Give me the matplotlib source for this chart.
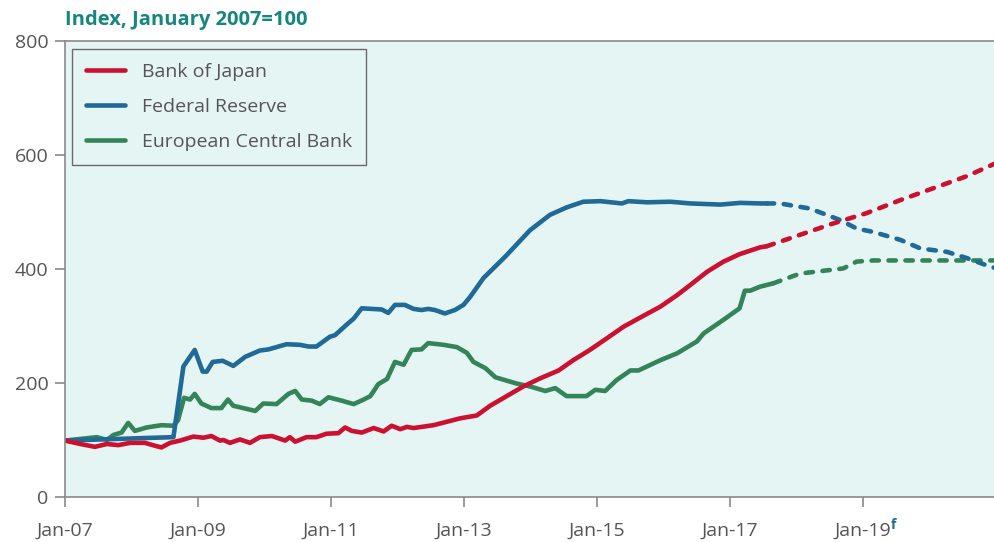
import matplotlib.pyplot as plt

# central bank balance sheets, Index Jan 2007 = 100
# x values are decimal years

boj_t = [2007.0, 2007.23, 2007.45, 2007.63, 2007.80, 2007.98, 2008.2, 2008.35, 2008.45, 2008.58,
         2008.73, 2008.93, 2009.08, 2009.20, 2009.33, 2009.38, 2009.48, 2009.63, 2009.78, 2009.93,
         2010.11, 2010.31, 2010.38, 2010.46, 2010.63, 2010.78, 2010.93, 2011.11, 2011.21, 2011.31,
         2011.46, 2011.64, 2011.79, 2011.91, 2012.04, 2012.14, 2012.24, 2012.54, 2012.74, 2012.94,
         2013.19, 2013.39, 2013.64, 2013.89, 2014.14, 2014.42, 2014.64, 2014.89, 2015.14, 2015.40,
         2015.65, 2015.95, 2016.20, 2016.40, 2016.65, 2016.90, 2017.14, 2017.45, 2017.55]
boj_v = [99, 93, 88, 93, 91, 95, 95, 90, 87, 95,
         99, 106, 104, 107, 99, 100, 95, 101, 95, 105,
         107, 99, 105, 97, 105, 105, 111, 112, 122, 116,
         113, 121, 115, 125, 119, 123, 121, 126, 132, 138,
         143, 160, 177, 194, 208, 222, 240, 258, 278, 299,
         315, 334, 354, 372, 395, 413, 426, 438, 440]
boj_ft = [2017.55, 2018.05, 2018.55, 2019.05, 2019.56, 2020.06, 2020.56, 2020.98]
boj_fv = [440, 460, 480, 498, 521, 542, 563, 585]

fed_t = [2007.0, 2008.63, 2008.78, 2008.95, 2009.07, 2009.13, 2009.22, 2009.37, 2009.53, 2009.71,
         2009.93, 2010.06, 2010.33, 2010.53, 2010.66, 2010.78, 2010.98, 2011.06, 2011.24, 2011.34,
         2011.46, 2011.76, 2011.86, 2011.96, 2012.11, 2012.24, 2012.36, 2012.46, 2012.56, 2012.71,
         2012.86, 2012.99, 2013.09, 2013.29, 2013.62, 2013.99, 2014.29, 2014.54, 2014.79, 2015.05,
         2015.37, 2015.47, 2015.75, 2016.10, 2016.40, 2016.85, 2017.15, 2017.45, 2017.55]
fed_v = [99, 105, 229, 258, 220, 220, 237, 239, 230, 246,
         257, 259, 268, 267, 264, 264, 281, 284, 303, 313,
         331, 329, 323, 337, 337, 330, 328, 330, 328, 322,
         328, 337, 351, 384, 422, 468, 495, 508, 518, 519,
         515, 519, 517, 518, 515, 513, 516, 515, 515]
fed_ft = [2017.55, 2017.75, 2018.2, 2018.65, 2018.90, 2019.15, 2019.56, 2019.86, 2020.26, 2020.56,
          2020.91, 2020.98]
fed_fv = [515, 515, 506, 486, 471, 465, 451, 436, 430, 419, 404, 402]

ecb_t = [2007.0, 2007.48, 2007.63, 2007.73, 2007.85, 2007.95, 2008.05, 2008.23, 2008.45, 2008.63,
         2008.70, 2008.79, 2008.88, 2008.95, 2009.05, 2009.20, 2009.35, 2009.45, 2009.53, 2009.68,
         2009.86, 2009.98, 2010.18, 2010.36, 2010.46, 2010.56, 2010.71, 2010.83, 2010.96, 2011.16,
         2011.34, 2011.49, 2011.59, 2011.71, 2011.84, 2011.96, 2012.09, 2012.21, 2012.36, 2012.46,
         2012.69, 2012.89, 2013.04, 2013.14, 2013.32, 2013.47, 2013.79, 2013.99, 2014.22, 2014.37,
         2014.54, 2014.84, 2014.97, 2015.12, 2015.29, 2015.50, 2015.62, 2015.95, 2016.20, 2016.50,
         2016.60, 2016.90, 2017.14, 2017.22, 2017.30, 2017.45, 2017.65]
ecb_v = [99, 105, 100, 109, 113, 130, 116, 122, 126, 125,
         135, 174, 171, 181, 164, 156, 156, 171, 160, 156,
         151, 164, 163, 181, 186, 171, 169, 163, 175, 169,
         163, 171, 177, 198, 207, 237, 232, 258, 259, 270,
         267, 263, 253, 237, 226, 210, 199, 194, 186, 191,
         177, 177, 188, 186, 205, 222, 222, 240, 252, 273,
         287, 311, 331, 362, 362, 369, 375]
ecb_ft = [2017.65, 2018.05, 2018.70, 2018.90, 2019.15, 2020.98]
ecb_fv = [375, 392, 401, 413, 415, 415]

labels = ["Bank of Japan", "Federal Reserve", "European Central Bank"]
colors = ["#cc1030", "#1f6a96", "#34845a"]

tick_years = [2007, 2009, 2011, 2013, 2015, 2017, 2019]
tick_labels = ["Jan-07", "Jan-09", "Jan-11", "Jan-13", "Jan-15", "Jan-17", "Jan-19"]

plt.rcParams['font.family'] = ['Open Sans', 'DejaVu Sans']

fig = plt.figure(figsize=(9.95, 5.42), dpi=100)
ax = fig.add_axes([65 / 995, 45 / 542, 930 / 995, 456 / 542])
ax.set_facecolor("#e5f5f4")

lw = 3.3
dash = (0, (1.6, 2.1))
series = [(boj_t, boj_v, boj_ft, boj_fv), (fed_t, fed_v, fed_ft, fed_fv), (ecb_t, ecb_v, ecb_ft, ecb_fv)]
# green drawn first so red/blue sit on top
for i in [2, 1, 0]:
    t, v, ft, fv = series[i]
    ax.plot(t, v, color=colors[i], lw=lw, solid_capstyle='round', solid_joinstyle='round', label=labels[i])
    ax.plot(ft, fv, color=colors[i], lw=lw, linestyle=dash, dash_capstyle='round')

ax.set_xlim(2007, 2020.98)
ax.set_ylim(0, 800)
ax.set_yticks([0, 200, 400, 600, 800])
ax.set_xticks(tick_years)
ax.set_xticklabels(tick_labels)

for s in ["left", "bottom", "top"]:
    ax.spines[s].set_color("#8a8a8a")
    ax.spines[s].set_linewidth(1.2)
ax.spines["right"].set_visible(False)
ax.tick_params(axis='both', colors="#8a8a8a", length=7, width=1.2, labelsize=14, labelcolor="#555555")
ax.tick_params(axis='x', pad=11)
ax.tick_params(axis='y', pad=5)

# forecast marker on Jan-19
ax.annotate("f", xy=(2019, 0), xycoords=('data', 'axes fraction'), xytext=(22, -20),
            textcoords='offset points', color="#1f6a96", fontsize=10, fontweight='bold',
            ha='center', va='center')

handles, labs = ax.get_legend_handles_labels()
order = [labs.index(l) for l in labels]
leg = ax.legend([handles[k] for k in order], labels, loc='upper left',
                bbox_to_anchor=(0.008, 0.982), fontsize=14, frameon=True, fancybox=False,
                handlelength=2.0, handletextpad=0.85, labelspacing=0.86, borderpad=0.72,
                borderaxespad=0)
leg.get_frame().set_edgecolor("#6a6a6a")
leg.get_frame().set_facecolor("#e5f5f4")
leg.get_frame().set_linewidth(1.0)
leg.get_frame().set_alpha(1)
for txt in leg.get_texts():
    txt.set_color("#555555")

fig.text(65 / 995, 1 - 20 / 542, "Index, January 2007=100", color="#16877f", fontsize=14.5,
         fontweight='bold', ha='left', va='center')

fig.savefig("out.png", dpi=100)
